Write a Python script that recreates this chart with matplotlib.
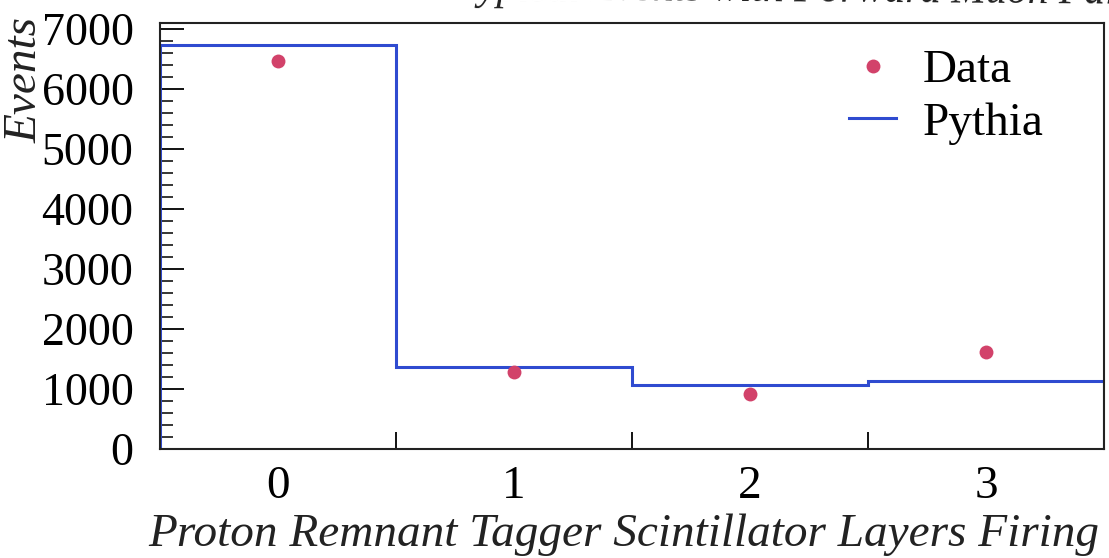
import matplotlib.pyplot as plt
import numpy as np

# layers firing (0-3), data counts and Pythia expectation
layers = [0, 1, 2, 3]
data_events = [6460, 1290, 920, 1610]
pythia_events = [6740, 1375, 1070, 1130]
bin_edges = [-0.5, 0.5, 1.5, 2.5, 3.5]

plt.rcParams['font.family'] = ['Liberation Serif', 'DejaVu Serif']
plt.rcParams['mathtext.fontset'] = 'stix'

fig = plt.figure(figsize=(11.09, 5.58), dpi=100)
ax = fig.add_axes([160 / 1109, 1 - 449 / 558, 944 / 1109, 426 / 558])

ax.stairs(pythia_events, bin_edges, baseline=0, color='#2f4bd0', lw=2.2,
          label='Pythia', zorder=2)
ax.plot(layers, data_events, 'o', color='#d2426a', ms=10, mec='none',
        label='Data', zorder=3)

ax.set_xlim(-0.5, 3.5)
ax.set_ylim(0, 7100)

ax.set_xticks(layers)
ax.set_xticklabels([str(i) for i in layers])
ax.set_xticks([0.5, 1.5, 2.5], minor=True)
ax.tick_params(axis='x', which='major', length=0, pad=12, labelsize=34)
ax.tick_params(axis='x', which='minor', direction='in', length=12, width=1.3)

ax.set_yticks(np.arange(0, 7001, 1000))
ax.set_yticks(np.arange(0, 7001, 200), minor=True)
ax.tick_params(axis='y', which='major', direction='in', length=17, width=1.3,
               pad=19, labelsize=33)
ax.tick_params(axis='y', which='minor', direction='in', length=9, width=1.1)

for s in ax.spines.values():
    s.set_linewidth(1.5)
    s.set_color('#222222')

fig.text(624 / 1109, 1 - 535 / 558,
         'Proton Remnant Tagger Scintillator Layers Firing',
         ha='center', va='center', fontsize=34, style='italic', color='#222222')
fig.text(25 / 1109, 1 - 80 / 558, 'Events', rotation=90, ha='center',
         va='center', fontsize=34, style='italic', color='#222222')

# title runs off the top edge; only its lowest strokes are on the page
fig.text(458 / 1109, 1 + 1 / 558, 'Typical Events with Forward Muon Pairs',
         ha='left', va='baseline', fontsize=30, style='italic', color='#222222',
         rotation=-0.4, rotation_mode='anchor')

handles, labels = ax.get_legend_handles_labels()
order = [1, 0]
leg = ax.legend([handles[i] for i in order], [labels[i] for i in order],
                loc='upper left', bbox_to_anchor=(849 / 1109, 1 - 49 / 558),
                bbox_transform=fig.transFigure, frameon=False, fontsize=34,
                handlelength=1.0, handletextpad=0.55, labelspacing=0.2,
                borderpad=0, borderaxespad=0)

fig.savefig('out.png', dpi=100)
